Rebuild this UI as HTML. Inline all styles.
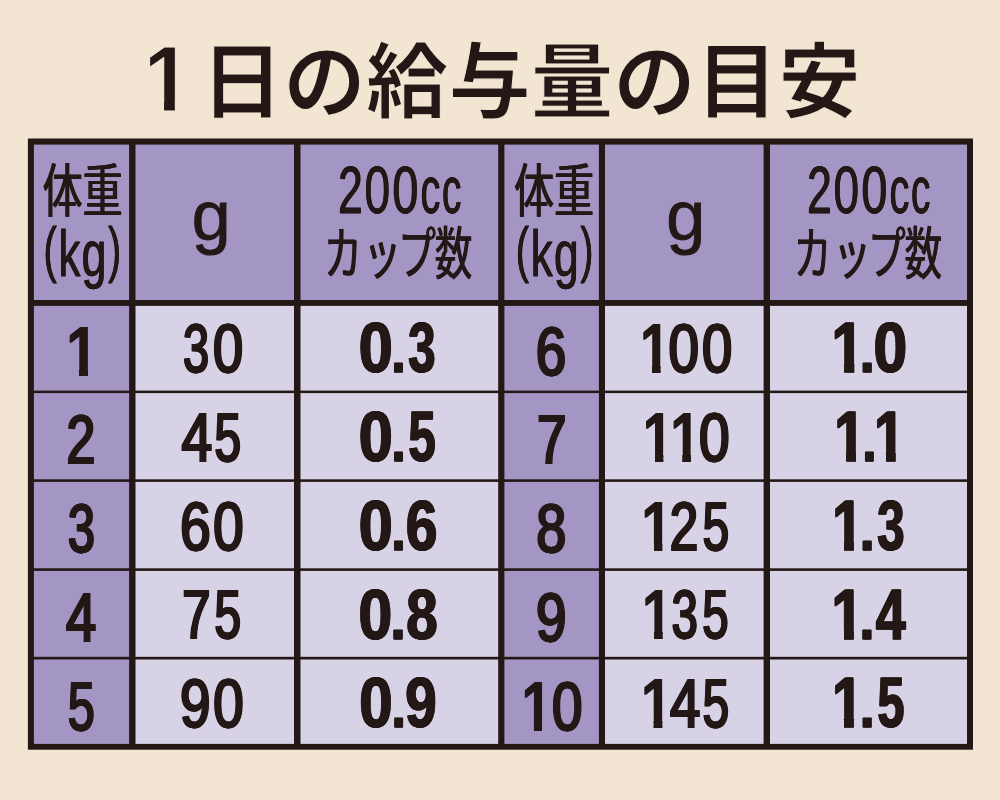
<!DOCTYPE html><html lang="ja"><head><meta charset="utf-8"><title>1日の給与量の目安</title>
<style>html,body{margin:0;padding:0;background:#f2e6d3}svg{display:block}
text{fill:#231815;font-family:"Liberation Sans","Noto Sans CJK JP",sans-serif;stroke-linejoin:miter;font-kerning:none}
.n text,text.n{stroke:#231815}
</style></head><body>
<svg width="1000" height="800" viewBox="0 0 1000 800">
<defs><clipPath id="k0"><path d="M-20,-100H80V-7.68H25.95V-6.43H25.25V30H15.78V-6.43H15.08V-7.68H-20Z"/></clipPath><clipPath id="k1"><path d="M-20,-100H80V-7.68H26.01V-6.43H25.31V30H15.73V-6.43H15.03V-7.68H-20Z"/></clipPath><clipPath id="k2"><path d="M-20,-100H80V-9.23H28.13V-7.98H27.43V30H15.37V-7.98H14.67V-9.23H-20Z"/></clipPath><clipPath id="k3"><path d="M-20,-100H80V-7.68H26.00V-6.43H25.30V30H15.74V-6.43H15.04V-7.68H-20Z"/></clipPath><clipPath id="k4"><path d="M-20,-100H80V-9.23H28.18V-7.98H27.48V30H15.32V-7.98H14.62V-9.23H-20Z"/></clipPath><clipPath id="k5"><path d="M-20,-100H80V-7.68H25.99V-6.43H25.29V30H15.75V-6.43H15.05V-7.68H-20Z"/></clipPath><clipPath id="k6"><path d="M-20,-100H80V-9.23H28.15V-7.98H27.45V30H15.35V-7.98H14.65V-9.23H-20Z"/></clipPath><clipPath id="k7"><path d="M-20,-100H80V-7.68H25.97V-6.43H25.27V30H15.77V-6.43H15.07V-7.68H-20Z"/></clipPath><clipPath id="k8"><path d="M-20,-100H80V-9.23H28.17V-7.98H27.47V30H15.33V-7.98H14.63V-9.23H-20Z"/></clipPath></defs>
<rect width="1000" height="800" fill="#f2e6d3"/>
<rect x="27.9" y="138.5" width="945.1" height="611.2" fill="#231815"/>
<rect x="33.9" y="144.6" width="95.2" height="155.4" fill="#a396c4"/>
<rect x="135.5" y="144.6" width="158.5" height="155.4" fill="#a396c4"/>
<rect x="300.5" y="144.6" width="197.7" height="155.4" fill="#a396c4"/>
<rect x="504.4" y="144.6" width="94.5" height="155.4" fill="#a396c4"/>
<rect x="605.0" y="144.6" width="158.6" height="155.4" fill="#a396c4"/>
<rect x="770.0" y="144.6" width="197.0" height="155.4" fill="#a396c4"/>
<rect x="33.9" y="305.9" width="95.2" height="84.7" fill="#a396c4"/>
<rect x="135.5" y="305.9" width="158.5" height="84.7" fill="#d8d2e7"/>
<rect x="300.5" y="305.9" width="197.7" height="84.7" fill="#d8d2e7"/>
<rect x="504.4" y="305.9" width="94.5" height="84.7" fill="#a396c4"/>
<rect x="605.0" y="305.9" width="158.6" height="84.7" fill="#d8d2e7"/>
<rect x="770.0" y="305.9" width="197.0" height="84.7" fill="#d8d2e7"/>
<rect x="33.9" y="393.1" width="95.2" height="86.2" fill="#a396c4"/>
<rect x="135.5" y="393.1" width="158.5" height="86.2" fill="#d8d2e7"/>
<rect x="300.5" y="393.1" width="197.7" height="86.2" fill="#d8d2e7"/>
<rect x="504.4" y="393.1" width="94.5" height="86.2" fill="#a396c4"/>
<rect x="605.0" y="393.1" width="158.6" height="86.2" fill="#d8d2e7"/>
<rect x="770.0" y="393.1" width="197.0" height="86.2" fill="#d8d2e7"/>
<rect x="33.9" y="481.9" width="95.2" height="86.4" fill="#a396c4"/>
<rect x="135.5" y="481.9" width="158.5" height="86.4" fill="#d8d2e7"/>
<rect x="300.5" y="481.9" width="197.7" height="86.4" fill="#d8d2e7"/>
<rect x="504.4" y="481.9" width="94.5" height="86.4" fill="#a396c4"/>
<rect x="605.0" y="481.9" width="158.6" height="86.4" fill="#d8d2e7"/>
<rect x="770.0" y="481.9" width="197.0" height="86.4" fill="#d8d2e7"/>
<rect x="33.9" y="570.9" width="95.2" height="85.9" fill="#a396c4"/>
<rect x="135.5" y="570.9" width="158.5" height="85.9" fill="#d8d2e7"/>
<rect x="300.5" y="570.9" width="197.7" height="85.9" fill="#d8d2e7"/>
<rect x="504.4" y="570.9" width="94.5" height="85.9" fill="#a396c4"/>
<rect x="605.0" y="570.9" width="158.6" height="85.9" fill="#d8d2e7"/>
<rect x="770.0" y="570.9" width="197.0" height="85.9" fill="#d8d2e7"/>
<rect x="33.9" y="659.5" width="95.2" height="84.4" fill="#a396c4"/>
<rect x="135.5" y="659.5" width="158.5" height="84.4" fill="#d8d2e7"/>
<rect x="300.5" y="659.5" width="197.7" height="84.4" fill="#d8d2e7"/>
<rect x="504.4" y="659.5" width="94.5" height="84.4" fill="#a396c4"/>
<rect x="605.0" y="659.5" width="158.6" height="84.4" fill="#d8d2e7"/>
<rect x="770.0" y="659.5" width="197.0" height="84.4" fill="#d8d2e7"/>
<defs><clipPath id="tc"><path clip-rule="evenodd" d="M0,0H1000V200H0ZM147.03,100.13H164.06V113.55H147.03ZM174.84,100.13H190.79V113.55H174.84Z"/></clipPath></defs><text clip-path="url(#tc)" style="font-weight:700;stroke:#f2e6d3;stroke-width:1.10"><tspan x="143.65" y="110.55" textLength="47.52" lengthAdjust="spacingAndGlyphs" style="font-size:91.86px">1</tspan><tspan class="j" x="200.90 283.40 365.90 448.40 530.90 613.40 695.90 778.40" y="110.60" style="font-size:82.2px">日の給与量の目安</tspan></text>
<text transform="translate(82.60 211.80) scale(0.6900 1)" text-anchor="middle" class="j" style="font-size:58.00px;font-weight:400;text-shadow:0.70px 0 0 #231815,-0.70px 0 0 #231815;">体重</text>
<text transform="translate(211.20 240.40) scale(1.0000 1)" x="-19.47" style="font-size:70.00px;font-weight:400;stroke:#231815;stroke-width:0.90;">g</text>
<text transform="translate(324.10 274.30) scale(0.6650 1)" x="0.00 59.47 111.58 166.39" class="j" style="font-size:56.40px;font-weight:400;text-shadow:0.70px 0 0 #231815,-0.70px 0 0 #231815;">カップ数</text>
<text class="n" style="font-size:64.45px;font-weight:400;stroke-width:0.30;text-shadow:0.40px 0 0 #231815,-0.40px 0 0 #231815;"><tspan x="43.54" y="269.90" textLength="13.20" lengthAdjust="spacingAndGlyphs" style="font-size:61.70px">(</tspan><tspan x="58.55" y="275.90" textLength="21.88" lengthAdjust="spacingAndGlyphs">k</tspan><tspan x="81.64" y="275.90" textLength="24.73" lengthAdjust="spacingAndGlyphs">g</tspan><tspan x="108.27" y="269.90" textLength="12.83" lengthAdjust="spacingAndGlyphs" style="font-size:61.70px">)</tspan></text>
<text class="n" style="font-size:65.80px;font-weight:400;stroke-width:0.30;text-shadow:0.45px 0 0 #231815,-0.45px 0 0 #231815;"><tspan x="338.12" y="212.90" textLength="24.66" lengthAdjust="spacingAndGlyphs">2</tspan><tspan x="364.46" y="212.90" textLength="25.58" lengthAdjust="spacingAndGlyphs">0</tspan><tspan x="392.44" y="212.90" textLength="25.93" lengthAdjust="spacingAndGlyphs">0</tspan><tspan x="420.55" y="212.90" textLength="19.85" lengthAdjust="spacingAndGlyphs">c</tspan><tspan x="441.99" y="212.90" textLength="19.39" lengthAdjust="spacingAndGlyphs">c</tspan></text>
<text transform="translate(554.10 211.80) scale(0.6900 1)" text-anchor="middle" class="j" style="font-size:58.00px;font-weight:400;text-shadow:0.70px 0 0 #231815,-0.70px 0 0 #231815;">体重</text>
<text transform="translate(685.70 240.40) scale(1.0000 1)" x="-19.47" style="font-size:70.00px;font-weight:400;stroke:#231815;stroke-width:0.90;">g</text>
<text transform="translate(793.80 274.30) scale(0.6650 1)" x="0.00 59.47 111.58 166.39" class="j" style="font-size:56.40px;font-weight:400;text-shadow:0.70px 0 0 #231815,-0.70px 0 0 #231815;">カップ数</text>
<text class="n" style="font-size:64.45px;font-weight:400;stroke-width:0.30;text-shadow:0.40px 0 0 #231815,-0.40px 0 0 #231815;"><tspan x="515.84" y="269.90" textLength="13.20" lengthAdjust="spacingAndGlyphs" style="font-size:61.70px">(</tspan><tspan x="530.85" y="275.90" textLength="21.88" lengthAdjust="spacingAndGlyphs">k</tspan><tspan x="553.94" y="275.90" textLength="24.73" lengthAdjust="spacingAndGlyphs">g</tspan><tspan x="580.57" y="269.90" textLength="12.83" lengthAdjust="spacingAndGlyphs" style="font-size:61.70px">)</tspan></text>
<text class="n" style="font-size:65.80px;font-weight:400;stroke-width:0.30;text-shadow:0.45px 0 0 #231815,-0.45px 0 0 #231815;"><tspan x="807.12" y="212.90" textLength="24.66" lengthAdjust="spacingAndGlyphs">2</tspan><tspan x="833.46" y="212.90" textLength="25.58" lengthAdjust="spacingAndGlyphs">0</tspan><tspan x="861.44" y="212.90" textLength="25.93" lengthAdjust="spacingAndGlyphs">0</tspan><tspan x="889.55" y="212.90" textLength="19.85" lengthAdjust="spacingAndGlyphs">c</tspan><tspan x="910.99" y="212.90" textLength="19.39" lengthAdjust="spacingAndGlyphs">c</tspan></text>
<g class="n"><text transform="translate(65.24 374.60) scale(0.8926 1)" clip-path="url(#k0)" style="font-size:69.40px;font-weight:400;stroke-width:1.80;text-shadow:0.73px 0 0 #231815,-0.73px 0 0 #231815;">1</text></g>
<g class="n"><text y="372.10" style="font-size:69.40px;font-weight:400;stroke-width:1.80;text-shadow:0.65px 0 0 #231815,-0.65px 0 0 #231815;"><tspan x="183.07" textLength="26.02" lengthAdjust="spacingAndGlyphs">3</tspan><tspan x="213.04" textLength="30.13" lengthAdjust="spacingAndGlyphs">0</tspan></text></g>
<g class="n"><text y="372.35" style="font-size:70.86px;font-weight:700;stroke-width:0.80;text-shadow:0.60px 0 0 #231815,-0.60px 0 0 #231815;"><tspan x="358.72" textLength="34.04" lengthAdjust="spacingAndGlyphs">0</tspan><tspan x="391.20" textLength="14.55" lengthAdjust="spacingAndGlyphs" style="font-size:59.09px">.</tspan><tspan x="408.25" textLength="27.24" lengthAdjust="spacingAndGlyphs">3</tspan></text></g>
<g class="n"><text y="374.60" style="font-size:69.40px;font-weight:400;stroke-width:1.80;text-shadow:0.65px 0 0 #231815,-0.65px 0 0 #231815;"><tspan x="535.83" textLength="30.47" lengthAdjust="spacingAndGlyphs">6</tspan></text></g>
<g class="n"><text transform="translate(639.27 372.10) scale(0.8285 1)" clip-path="url(#k1)" style="font-size:69.40px;font-weight:400;stroke-width:1.80;text-shadow:0.78px 0 0 #231815,-0.78px 0 0 #231815;">1</text><text y="372.10" style="font-size:69.40px;font-weight:400;stroke-width:1.80;text-shadow:0.65px 0 0 #231815,-0.65px 0 0 #231815;"><tspan x="668.62" textLength="30.46" lengthAdjust="spacingAndGlyphs">0</tspan><tspan x="701.93" textLength="30.24" lengthAdjust="spacingAndGlyphs">0</tspan></text></g>
<g class="n"><text transform="translate(831.66 372.35) scale(0.8192 1)" clip-path="url(#k2)" style="font-size:70.86px;font-weight:700;stroke-width:0.80;text-shadow:0.73px 0 0 #231815,-0.73px 0 0 #231815;">1</text><text y="372.35" style="font-size:70.86px;font-weight:700;stroke-width:0.80;text-shadow:0.60px 0 0 #231815,-0.60px 0 0 #231815;"><tspan x="859.82" textLength="14.91" lengthAdjust="spacingAndGlyphs" style="font-size:59.09px">.</tspan><tspan x="873.45" textLength="33.70" lengthAdjust="spacingAndGlyphs">0</tspan></text></g>
<g class="n"><text y="463.38" style="font-size:69.40px;font-weight:400;stroke-width:1.80;text-shadow:0.65px 0 0 #231815,-0.65px 0 0 #231815;"><tspan x="66.47" textLength="28.82" lengthAdjust="spacingAndGlyphs">2</tspan></text></g>
<g class="n"><text y="460.88" style="font-size:69.40px;font-weight:400;stroke-width:1.80;text-shadow:0.65px 0 0 #231815,-0.65px 0 0 #231815;"><tspan x="181.60" textLength="30.65" lengthAdjust="spacingAndGlyphs">4</tspan><tspan x="214.46" textLength="26.58" lengthAdjust="spacingAndGlyphs">5</tspan></text></g>
<g class="n"><text y="461.13" style="font-size:70.86px;font-weight:700;stroke-width:0.80;text-shadow:0.60px 0 0 #231815,-0.60px 0 0 #231815;"><tspan x="358.72" textLength="34.04" lengthAdjust="spacingAndGlyphs">0</tspan><tspan x="391.20" textLength="14.55" lengthAdjust="spacingAndGlyphs" style="font-size:59.09px">.</tspan><tspan x="408.36" textLength="27.43" lengthAdjust="spacingAndGlyphs">5</tspan></text></g>
<g class="n"><text y="463.38" style="font-size:69.40px;font-weight:400;stroke-width:1.80;text-shadow:0.65px 0 0 #231815,-0.65px 0 0 #231815;"><tspan x="537.12" textLength="29.46" lengthAdjust="spacingAndGlyphs">7</tspan></text></g>
<g class="n"><text transform="translate(642.03 460.88) scale(0.8338 1)" clip-path="url(#k1)" style="font-size:69.40px;font-weight:400;stroke-width:1.80;text-shadow:0.78px 0 0 #231815,-0.78px 0 0 #231815;">1</text><text transform="translate(669.39 460.88) scale(0.8418 1)" clip-path="url(#k3)" style="font-size:69.40px;font-weight:400;stroke-width:1.80;text-shadow:0.77px 0 0 #231815,-0.77px 0 0 #231815;">1</text><text y="460.88" style="font-size:69.40px;font-weight:400;stroke-width:1.80;text-shadow:0.65px 0 0 #231815,-0.65px 0 0 #231815;"><tspan x="699.02" textLength="30.57" lengthAdjust="spacingAndGlyphs">0</tspan></text></g>
<g class="n"><text transform="translate(834.46 461.13) scale(0.7742 1)" clip-path="url(#k4)" style="font-size:70.86px;font-weight:700;stroke-width:0.80;text-shadow:0.78px 0 0 #231815,-0.78px 0 0 #231815;">1</text><text y="461.13" style="font-size:70.86px;font-weight:700;stroke-width:0.80;text-shadow:0.60px 0 0 #231815,-0.60px 0 0 #231815;"><tspan x="862.34" textLength="14.37" lengthAdjust="spacingAndGlyphs" style="font-size:59.09px">.</tspan></text><text transform="translate(874.16 461.13) scale(0.7742 1)" clip-path="url(#k4)" style="font-size:70.86px;font-weight:700;stroke-width:0.80;text-shadow:0.78px 0 0 #231815,-0.78px 0 0 #231815;">1</text></g>
<g class="n"><text y="552.16" style="font-size:69.40px;font-weight:400;stroke-width:1.80;text-shadow:0.65px 0 0 #231815,-0.65px 0 0 #231815;"><tspan x="67.93" textLength="26.91" lengthAdjust="spacingAndGlyphs">3</tspan></text></g>
<g class="n"><text y="549.66" style="font-size:69.40px;font-weight:400;stroke-width:1.80;text-shadow:0.65px 0 0 #231815,-0.65px 0 0 #231815;"><tspan x="180.06" textLength="30.70" lengthAdjust="spacingAndGlyphs">6</tspan><tspan x="213.33" textLength="30.35" lengthAdjust="spacingAndGlyphs">0</tspan></text></g>
<g class="n"><text y="549.91" style="font-size:70.86px;font-weight:700;stroke-width:0.80;text-shadow:0.60px 0 0 #231815,-0.60px 0 0 #231815;"><tspan x="358.72" textLength="34.04" lengthAdjust="spacingAndGlyphs">0</tspan><tspan x="391.20" textLength="14.55" lengthAdjust="spacingAndGlyphs" style="font-size:59.09px">.</tspan><tspan x="405.78" textLength="31.70" lengthAdjust="spacingAndGlyphs">6</tspan></text></g>
<g class="n"><text y="552.16" style="font-size:69.40px;font-weight:400;stroke-width:1.80;text-shadow:0.65px 0 0 #231815,-0.65px 0 0 #231815;"><tspan x="536.26" textLength="29.99" lengthAdjust="spacingAndGlyphs">8</tspan></text></g>
<g class="n"><text transform="translate(640.51 549.66) scale(0.8552 1)" clip-path="url(#k5)" style="font-size:69.40px;font-weight:400;stroke-width:1.80;text-shadow:0.76px 0 0 #231815,-0.76px 0 0 #231815;">1</text><text y="549.66" style="font-size:69.40px;font-weight:400;stroke-width:1.80;text-shadow:0.65px 0 0 #231815,-0.65px 0 0 #231815;"><tspan x="669.74" textLength="28.47" lengthAdjust="spacingAndGlyphs">2</tspan><tspan x="702.61" textLength="26.58" lengthAdjust="spacingAndGlyphs">5</tspan></text></g>
<g class="n"><text transform="translate(832.36 549.91) scale(0.7742 1)" clip-path="url(#k4)" style="font-size:70.86px;font-weight:700;stroke-width:0.80;text-shadow:0.78px 0 0 #231815,-0.78px 0 0 #231815;">1</text><text y="549.91" style="font-size:70.86px;font-weight:700;stroke-width:0.80;text-shadow:0.60px 0 0 #231815,-0.60px 0 0 #231815;"><tspan x="859.82" textLength="14.91" lengthAdjust="spacingAndGlyphs" style="font-size:59.09px">.</tspan><tspan x="877.25" textLength="27.35" lengthAdjust="spacingAndGlyphs">3</tspan></text></g>
<g class="n"><text y="640.94" style="font-size:69.40px;font-weight:400;stroke-width:1.80;text-shadow:0.65px 0 0 #231815,-0.65px 0 0 #231815;"><tspan x="66.11" textLength="30.13" lengthAdjust="spacingAndGlyphs">4</tspan></text></g>
<g class="n"><text y="638.44" style="font-size:69.40px;font-weight:400;stroke-width:1.80;text-shadow:0.65px 0 0 #231815,-0.65px 0 0 #231815;"><tspan x="182.31" textLength="28.24" lengthAdjust="spacingAndGlyphs">7</tspan><tspan x="214.46" textLength="26.58" lengthAdjust="spacingAndGlyphs">5</tspan></text></g>
<g class="n"><text y="638.69" style="font-size:70.86px;font-weight:700;stroke-width:0.80;text-shadow:0.60px 0 0 #231815,-0.60px 0 0 #231815;"><tspan x="358.55" textLength="33.70" lengthAdjust="spacingAndGlyphs">0</tspan><tspan x="390.64" textLength="14.82" lengthAdjust="spacingAndGlyphs" style="font-size:59.09px">.</tspan><tspan x="406.33" textLength="31.39" lengthAdjust="spacingAndGlyphs">8</tspan></text></g>
<g class="n"><text y="640.94" style="font-size:69.40px;font-weight:400;stroke-width:1.80;text-shadow:0.65px 0 0 #231815,-0.65px 0 0 #231815;"><tspan x="536.04" textLength="30.44" lengthAdjust="spacingAndGlyphs">9</tspan></text></g>
<g class="n"><text transform="translate(641.10 638.44) scale(0.8391 1)" clip-path="url(#k3)" style="font-size:69.40px;font-weight:400;stroke-width:1.80;text-shadow:0.77px 0 0 #231815,-0.77px 0 0 #231815;">1</text><text y="638.44" style="font-size:69.40px;font-weight:400;stroke-width:1.80;text-shadow:0.65px 0 0 #231815,-0.65px 0 0 #231815;"><tspan x="671.78" textLength="25.97" lengthAdjust="spacingAndGlyphs">3</tspan><tspan x="702.37" textLength="26.25" lengthAdjust="spacingAndGlyphs">5</tspan></text></g>
<g class="n"><text transform="translate(831.76 638.69) scale(0.7967 1)" clip-path="url(#k6)" style="font-size:70.86px;font-weight:700;stroke-width:0.80;text-shadow:0.75px 0 0 #231815,-0.75px 0 0 #231815;">1</text><text y="638.69" style="font-size:70.86px;font-weight:700;stroke-width:0.80;text-shadow:0.60px 0 0 #231815,-0.60px 0 0 #231815;"><tspan x="859.52" textLength="14.91" lengthAdjust="spacingAndGlyphs" style="font-size:59.09px">.</tspan><tspan x="875.74" textLength="29.95" lengthAdjust="spacingAndGlyphs">4</tspan></text></g>
<g class="n"><text y="729.72" style="font-size:69.40px;font-weight:400;stroke-width:1.80;text-shadow:0.65px 0 0 #231815,-0.65px 0 0 #231815;"><tspan x="67.84" textLength="26.91" lengthAdjust="spacingAndGlyphs">5</tspan></text></g>
<g class="n"><text y="727.22" style="font-size:69.40px;font-weight:400;stroke-width:1.80;text-shadow:0.65px 0 0 #231815,-0.65px 0 0 #231815;"><tspan x="180.09" textLength="30.50" lengthAdjust="spacingAndGlyphs">9</tspan><tspan x="213.32" textLength="30.40" lengthAdjust="spacingAndGlyphs">0</tspan></text></g>
<g class="n"><text y="727.47" style="font-size:70.86px;font-weight:700;stroke-width:0.80;text-shadow:0.60px 0 0 #231815,-0.60px 0 0 #231815;"><tspan x="359.31" textLength="33.41" lengthAdjust="spacingAndGlyphs">0</tspan><tspan x="391.54" textLength="14.37" lengthAdjust="spacingAndGlyphs" style="font-size:59.09px">.</tspan><tspan x="405.15" textLength="31.64" lengthAdjust="spacingAndGlyphs">9</tspan></text></g>
<g class="n"><text transform="translate(520.75 729.72) scale(0.8397 1)" clip-path="url(#k3)" style="font-size:69.40px;font-weight:400;stroke-width:1.80;text-shadow:0.77px 0 0 #231815,-0.77px 0 0 #231815;">1</text><text y="729.72" style="font-size:69.40px;font-weight:400;stroke-width:1.80;text-shadow:0.65px 0 0 #231815,-0.65px 0 0 #231815;"><tspan x="552.02" textLength="30.40" lengthAdjust="spacingAndGlyphs">0</tspan></text></g>
<g class="n"><text transform="translate(640.05 727.22) scale(0.8739 1)" clip-path="url(#k7)" style="font-size:69.40px;font-weight:400;stroke-width:1.80;text-shadow:0.74px 0 0 #231815,-0.74px 0 0 #231815;">1</text><text y="727.22" style="font-size:69.40px;font-weight:400;stroke-width:1.80;text-shadow:0.65px 0 0 #231815,-0.65px 0 0 #231815;"><tspan x="670.11" textLength="30.23" lengthAdjust="spacingAndGlyphs">4</tspan><tspan x="702.61" textLength="26.58" lengthAdjust="spacingAndGlyphs">5</tspan></text></g>
<g class="n"><text transform="translate(832.12 727.47) scale(0.7832 1)" clip-path="url(#k8)" style="font-size:70.86px;font-weight:700;stroke-width:0.80;text-shadow:0.77px 0 0 #231815,-0.77px 0 0 #231815;">1</text><text y="727.47" style="font-size:70.86px;font-weight:700;stroke-width:0.80;text-shadow:0.60px 0 0 #231815,-0.60px 0 0 #231815;"><tspan x="859.82" textLength="14.91" lengthAdjust="spacingAndGlyphs" style="font-size:59.09px">.</tspan><tspan x="877.48" textLength="27.00" lengthAdjust="spacingAndGlyphs">5</tspan></text></g>
</svg></body></html>
